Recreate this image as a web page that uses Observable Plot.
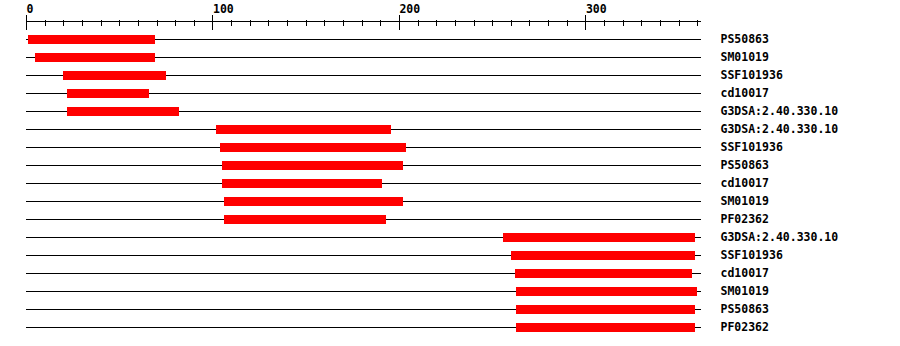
<!DOCTYPE html>
<html>
<head>
<meta charset="utf-8">
<script src="https://cdn.jsdelivr.net/npm/d3@7"></script>
<script src="https://cdn.jsdelivr.net/npm/@observablehq/plot@0.6"></script>
<style>
  html, body { margin: 0; padding: 0; background: #fff; }
</style>
</head>
<body>
<div id="chart"></div>
<script>
// Domain hits along the protein sequence, one row per hit.
const seqLength = 362;
const hitNames = [
  "PS50863", "SM01019", "SSF101936", "cd10017", "G3DSA:2.40.330.10",
  "G3DSA:2.40.330.10", "SSF101936", "PS50863", "cd10017", "SM01019", "PF02362",
  "G3DSA:2.40.330.10", "SSF101936", "cd10017", "SM01019", "PS50863", "PF02362"
];
const hitStarts = [1, 5, 20, 22, 22, 102, 104, 105, 105, 106, 106, 256, 260, 262, 263, 263, 263];
const hitEnds = [69, 69, 75, 66, 82, 196, 204, 202, 191, 202, 193, 359, 359, 357, 360, 359, 359];

// Axis tick values
const majorTicks = [0, 100, 200, 300];
const minorTicks = [0, 10, 20, 30, 40, 50, 60, 70, 80, 90, 100, 110, 120, 130, 140, 150, 160, 170,
  180, 190, 200, 210, 220, 230, 240, 250, 260, 270, 280, 290, 300, 310, 320, 330, 340, 350, 360];

const rows = hitNames.map((name, i) => ({row: i, name, start: hitStarts[i], end: hitEnds[i]}));

const font = {fontFamily: "'DejaVu Sans Mono', monospace", fontSize: 11.5, fontWeight: "bold"};
const crisp = {shapeRendering: "crispEdges"};

const chart = Plot.plot({
  width: 900,
  height: 346,
  marginTop: 21,
  marginLeft: 26,
  marginRight: 199,
  marginBottom: 10,
  style: {background: "#fff", color: "#000", ...font, fontSize: "11.5px"},
  x: {domain: [0, seqLength], range: [26, 701]},
  y: {type: "band", domain: rows.map(d => d.row), range: [30, 336], padding: 0, axis: null},
  marks: [
    // axis line, one row spacing above the first hit
    Plot.ruleY(rows.slice(0, 1), {
      y: "row", dy: -18, x1: 0, x2: seqLength, stroke: "#000", strokeWidth: 1, ...crisp
    }),
    // minor ticks
    Plot.axisX({
      anchor: "top", ticks: minorTicks, tickSize: 6, dy: 4,
      tickFormat: () => "", stroke: "#000", strokeOpacity: 1, ...crisp
    }),
    // major ticks with labels
    Plot.axisX({
      anchor: "top", ticks: majorTicks, tickSize: 15, dy: 8, tickPadding: 2,
      textAnchor: "start", stroke: "#000", strokeOpacity: 1, fill: "#000", ...font, ...crisp
    }),
    // full-length sequence line per row
    Plot.ruleY(rows, {y: "row", x1: 0, x2: seqLength, stroke: "#000", strokeWidth: 1, ...crisp}),
    // domain hit bars
    Plot.barX(rows, {
      y: "row", x1: "start", x2: "end", fill: "#ff0000",
      insetTop: 5, insetBottom: 4, ...crisp
    }),
    // hit names
    Plot.text(rows, {
      y: "row", x: seqLength, text: "name", dx: 19, textAnchor: "start",
      lineAnchor: "middle", fill: "#000", ...font
    })
  ]
});

document.getElementById("chart").appendChild(chart);
</script>
</body>
</html>
